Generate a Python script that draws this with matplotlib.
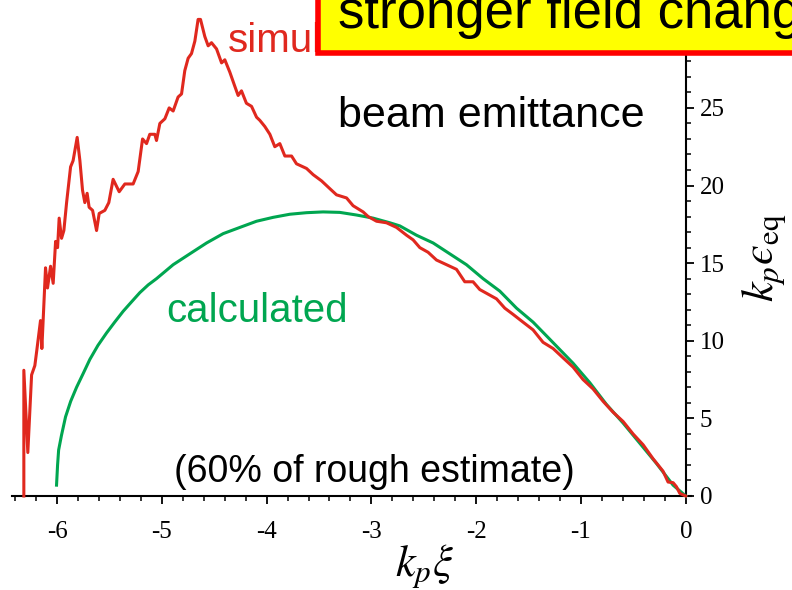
import matplotlib
matplotlib.use("Agg")
import matplotlib.pyplot as plt
from matplotlib.patches import Rectangle

plt.rcParams["axes.unicode_minus"] = False
plt.rcParams["mathtext.fontset"] = "stix"

# simulated emittance (noisy)
sim_x = [-6.317, -6.317, -6.279, -6.243, -6.212, -6.193, -6.158, -6.145, -6.110, -6.091,
         -6.062, -6.037, -6.014, -5.995, -5.980, -5.957, -5.935, -5.909, -5.871, -5.847,
         -5.808, -5.782, -5.757, -5.735, -5.713, -5.694, -5.661, -5.623, -5.598, -5.544,
         -5.506, -5.465, -5.407, -5.353, -5.274, -5.226, -5.184, -5.146, -5.115, -5.067,
         -5.051, -5.019, -4.971, -4.930, -4.892, -4.845, -4.812, -4.781, -4.749, -4.717,
         -4.685, -4.654, -4.631, -4.590, -4.558, -4.526, -4.478, -4.430, -4.399, -4.351,
         -4.304, -4.272, -4.240, -4.193, -4.144, -4.096, -4.065, -4.017, -3.969, -3.922,
         -3.874, -3.826, -3.762, -3.715, -3.619, -3.556, -3.476, -3.397, -3.333, -3.237,
         -3.175, -3.079, -3.031, -2.951, -2.856, -2.760, -2.665, -2.602, -2.538, -2.459,
         -2.379, -2.283, -2.188, -2.109, -2.030, -1.966, -1.886, -1.806, -1.727, -1.648,
         -1.553, -1.457, -1.362, -1.266, -1.171, -1.075, -0.980, -0.885, -0.789, -0.694,
         -0.598, -0.503, -0.407, -0.312, -0.217, -0.169, -0.121, -0.089, -0.057, 0.0]
sim_y = [0.0, 8.1, 2.8, 7.8, 8.4, 9.4, 11.3, 9.5, 14.7, 13.4,
         14.8, 13.7, 16.4, 16.0, 17.9, 16.6, 17.1, 18.9, 21.2, 21.6,
         23.1, 21.6, 19.7, 18.9, 19.5, 18.6, 18.4, 17.1, 18.2, 18.4,
         18.9, 20.4, 19.6, 20.1, 20.1, 20.9, 23.0, 22.7, 23.3, 23.3,
         22.9, 24.0, 24.3, 25.0, 24.8, 25.7, 25.9, 27.4, 28.2, 28.5,
         29.3, 30.7, 30.7, 29.6, 29.0, 29.2, 28.8, 27.9, 28.1, 27.3,
         26.4, 25.8, 26.1, 25.3, 25.1, 24.4, 24.2, 23.8, 23.3, 22.5,
         22.7, 21.9, 21.9, 21.4, 21.1, 20.7, 20.3, 19.8, 19.4, 19.2,
         18.7, 18.3, 18.0, 17.7, 17.6, 17.3, 16.8, 16.5, 16.0, 15.7,
         15.2, 14.9, 14.6, 13.8, 13.8, 13.3, 13.0, 12.7, 12.1, 11.7,
         11.2, 10.7, 9.9, 9.5, 8.9, 8.3, 7.5, 6.9, 6.1, 5.4,
         4.8, 4.0, 3.3, 2.4, 1.6, 0.9, 0.86, 0.6, 0.17, 0.0]

# calculated emittance
calc_x = [-6.005, -5.995, -5.985, -5.958, -5.919, -5.870, -5.814, -5.750, -5.687, -5.610,
          -5.528, -5.450, -5.369, -5.290, -5.210, -5.130, -5.051, -4.892,
          -4.733, -4.573, -4.415, -4.256, -4.096, -3.938, -3.779, -3.619, -3.461, -3.302,
          -3.142, -2.984, -2.824, -2.729, -2.570, -2.411, -2.252, -2.093, -1.934, -1.775,
          -1.615, -1.457, -1.298, -1.075, -0.916, -0.757, -0.598, -0.439, -0.280, -0.121, 0.0]
calc_y = [0.7, 2.0, 2.96, 3.9, 5.1, 6.1, 7.0, 7.9, 8.8, 9.7,
          10.5, 11.2, 11.9, 12.5, 13.1, 13.6, 14.0, 14.9,
          15.6, 16.3, 16.9, 17.3, 17.7, 17.95, 18.15, 18.25, 18.3, 18.27,
          18.1, 17.9, 17.6, 17.4, 16.8, 16.3, 15.6, 14.9, 14.0, 13.2,
          12.1, 11.2, 10.1, 8.55, 7.3, 5.9, 4.7, 3.4, 2.1, 0.7, 0.0]

x_ticks = [-6, -5, -4, -3, -2, -1, 0]
y_ticks = [0, 5, 10, 15, 20, 25]

red = "#e0281e"
green = "#00a650"

W, H = 792, 590
fig = plt.figure(figsize=(W / 100, H / 100), dpi=100)
ax = fig.add_axes([12 / W, (H - 496) / H, 679 / W, 489 / H])
ax.set_xlim(-6.43, 0.05)
ax.set_ylim(0, 31.5)

ax.plot(calc_x, calc_y, color=green, linewidth=2.2, clip_on=False, zorder=3)
ax.plot(sim_x, sim_y, color=red, linewidth=2.2, clip_on=False, zorder=4)

ax.spines["left"].set_visible(False)
ax.spines["top"].set_visible(False)
ax.spines["right"].set_position(("data", 0))
ax.spines["bottom"].set_linewidth(1.5)
ax.spines["right"].set_linewidth(1.5)
ax.yaxis.tick_right()
ax.xaxis.tick_bottom()

ax.set_xticks(x_ticks)
ax.set_xticks([v / 5 for v in range(-32, 1)], minor=True)
ax.set_xticklabels([str(v) for v in x_ticks])
ax.set_yticks(y_ticks)
ax.set_yticks(range(0, 30), minor=True)
ax.set_yticklabels([str(v) for v in y_ticks])
ax.tick_params(axis="both", which="major", direction="out", length=6, width=1.3,
               labelsize=18)
ax.tick_params(axis="both", which="minor", direction="out", length=3.5, width=1.1)
ax.tick_params(axis="x", pad=12)
ax.tick_params(axis="y", pad=4)
for lab in ax.get_xticklabels() + ax.get_yticklabels():
    lab.set_fontfamily("Liberation Serif")

fig.text(425 / W, 1 - 566 / H, r"$k_p\xi$", fontsize=32, ha="center", va="center")
# lunate epsilon, as in the original
fig.text(765 / W, 1 - 258 / H, "$k_p\u03f5_{\\mathrm{eq}}$", fontsize=32,
         ha="center", va="center", rotation=90)

sans = "Liberation Sans"
fig.text(228 / W, 1 - 52 / H, "simulated", color=red, fontsize=29, family=sans,
         va="baseline", zorder=1)
fig.text(338 / W, 1 - 127 / H, "beam emittance", color="black", fontsize=31,
         family=sans, va="baseline")
fig.text(166 / W, 1 - 322 / H, "calculated", color=green, fontsize=29, family=sans,
         va="baseline")
fig.text(174 / W, 1 - 482 / H, "(60% of rough estimate)", color="black", fontsize=27,
         family=sans, va="baseline")

box = Rectangle((318 / W, 1 - 53 / H), 1.0, 0.2, transform=fig.transFigure,
                facecolor="#ffff00", edgecolor="#ff0000", linewidth=4, zorder=10)
fig.patches.append(box)
fig.text(338 / W, 1 - 28 / H, "stronger field change", color="black", fontsize=38,
         family=sans, va="baseline", zorder=11)

fig.savefig("out.png", dpi=100)
